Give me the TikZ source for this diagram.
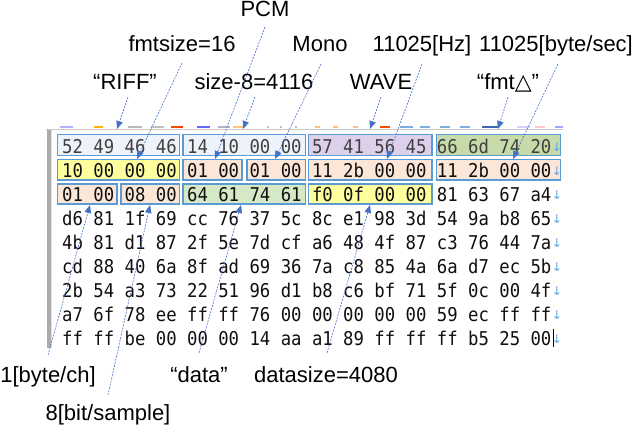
\documentclass[tikz,border=0pt]{standalone}
\usepackage{fontspec}
\setmainfont{Liberation Sans}
\newfontfamily\hexfont[FakeStretch=0.91]{DejaVu Sans Mono}
\newfontfamily\symfont{DejaVu Sans}
\usetikzlibrary{arrows.meta,calc}
\definecolor{boxblue}{HTML}{5B9BD5}
\definecolor{leadblue}{HTML}{4472C4}
\definecolor{eolblue}{HTML}{5AA5E6}
\definecolor{hexcol}{HTML}{101010}
\definecolor{fillgrey}{HTML}{EEF2FA}
\definecolor{filllav}{HTML}{DDD0EA}
\definecolor{fillgreen}{HTML}{C6DBA9}
\definecolor{filllgreen}{HTML}{D6E9C6}
\definecolor{fillyellow}{HTML}{FFFF9E}
\definecolor{fillpeach}{HTML}{FCE6D8}
\begin{document}
\begin{tikzpicture}[x=1pt,y=-1pt,
  hexrow/.style={anchor=base west, inner sep=0pt, font=\hexfont\fontsize{19}{19}\selectfont, text=hexcol},
  lbl/.style={anchor=base, inner sep=0pt, font=\fontsize{22}{22}\selectfont, text=black},
  bytebox/.style={draw=boxblue, line width=1.2pt},
  lead/.style={draw=leadblue, line width=0.6pt, dash pattern=on 2pt off 1.2pt,
     -{Triangle[length=8pt,width=6.5pt,fill=leadblue]}},
  eol/.style={anchor=base, inner sep=0pt, font=\symfont\fontsize{12}{12}\selectfont, text=eolblue}
]
\useasboundingbox (0,0) rectangle (637,427);
\fill[white] (0,0) rectangle (637,427);

% toolbar remnants
\draw[color=black!22, line width=1pt] (46,130) -- (563,130);
\foreach \xa/\xb/\c in {60/73/{blue!30}, 94/103/{orange!60!yellow}, 128/142/{black!28}, 151/164/{black!25},
  171/183/{red!45!orange}, 197/210/{blue!60}, 218/230/{blue!25!black!30}, 233/245/{orange!45},
  315/320/{orange!50}, 333/338/{orange!50}, 353/358/{orange!50}, 380/390/{red!40!orange},
  400/413/{boxblue!80}, 420/430/{boxblue!80}, 440/450/{boxblue!80}, 460/470/{boxblue!80},
  482/498/{leadblue!90!black}, 517/530/{blue!18}, 535/545/{red!22}, 555/563/{blue!35}}
  {\fill[\c] (\xa,126) rectangle (\xb,128.5);}
\foreach \xt in {267,280,295}
  {\fill[black!25] (\xt,126) rectangle (\xt+1.5,128.5);}

% left gutter bar
\fill[black!33] (46.5,130) rectangle (50.5,348);
\fill[black!12] (50.5,130) rectangle (52,348);

% row 1 boxes
\path[bytebox, fill=fillgrey] (57.5,134.5) rectangle (179.5,155.5);
\path[bytebox, fill=fillgrey] (183,134.5) rectangle (305.5,155.5);
\path[bytebox, fill=filllav] (308.5,134.5) rectangle (432,155.5);
\path[bytebox, fill=fillgreen] (436.5,134.5) rectangle (560.5,155.5);
% row 2 boxes
\path[bytebox, fill=fillyellow] (57.5,159.5) rectangle (179.5,180);
\path[bytebox, fill=fillpeach] (183,159.5) rectangle (242,180);
\path[bytebox, fill=fillpeach] (247,159.5) rectangle (305.5,180);
\path[bytebox, fill=fillpeach] (308.5,159.5) rectangle (432,180);
\path[bytebox, fill=fillpeach] (436.5,159.5) rectangle (560.5,180);
% row 3 boxes
\path[bytebox, fill=fillpeach] (57.5,184) rectangle (117,204);
\path[bytebox, fill=fillpeach] (121,184) rectangle (179.5,204);
\path[bytebox, fill=filllgreen] (183,184) rectangle (305.5,204);
\path[bytebox, fill=fillyellow] (308.5,184) rectangle (432,204);

% hex rows
\node[hexrow, text=black!75] (r1) at (62,153.5) {52 49 46 46 14 10 00 00 57 41 56 45 66 6d 74 20};
\node[hexrow] (r2) at (62,177.5) {10 00 00 00 01 00 01 00 11 2b 00 00 11 2b 00 00};
\node[hexrow] (r3) at (62,201.5) {01 00 08 00 64 61 74 61 f0 0f 00 00 81 63 67 a4};
\node[hexrow] (r4) at (62,225.5) {d6 81 1f 69 cc 76 37 5c 8c e1 98 3d 54 9a b8 65};
\node[hexrow] (r5) at (62,249.5) {4b 81 d1 87 2f 5e 7d cf a6 48 4f 87 c3 76 44 7a};
\node[hexrow] (r6) at (62,273.5) {cd 88 40 6a 8f ad 69 36 7a c8 85 4a 6a d7 ec 5b};
\node[hexrow] (r7) at (62,297.5) {2b 54 a3 73 22 51 96 d1 b8 c6 bf 71 5f 0c 00 4f};
\node[hexrow] (r8) at (62,321.5) {a7 6f 78 ee ff ff 76 00 00 00 00 00 59 ec ff ff};
\node[hexrow] (r9) at (62,345.5) {ff ff be 00 00 00 14 aa a1 89 ff ff ff b5 25 00};
\foreach \i in {1,...,9}
  {\node[eol] (e\i) at (557,152+24*\i-24) {↓};}
\draw[black, line width=0.8pt] (553.5,329) -- (553.5,347);

% labels
\node[lbl] (pcm) at (265,17) {PCM};
\node[lbl] (fmtsize) at (182,52) {fmtsize=16};
\node[lbl] (mono) at (320,52) {Mono};
\node[lbl] (hz) at (422,52) {11025[Hz]};
\node[lbl] (bps) at (556,52) {11025[byte/sec]};
\node[lbl] (riff) at (125,90) {“RIFF”};
\node[lbl] (size) at (254,90) {size-8=4116};
\node[lbl] (wave) at (381,90) {WAVE};
\node[lbl] (fmt) at (508,90) {“fmt{\symfont △}”};
\node[lbl] (bytech) at (48,383) {1[byte/ch]};
\node[lbl] (data) at (199,383) {“data”};
\node[lbl] (datasize) at (326,383) {datasize=4080};
\node[lbl] (bitsample) at (108,420) {8[bit/sample]};

% arrow targets
\coordinate (tRiff) at (117,129);
\coordinate (tFmtsize) at (137,159);
\coordinate (tPcm) at (215,159);
\coordinate (tSize) at (243,129);
\coordinate (tMono) at (275,159);
\coordinate (tWave) at (370,129);
\coordinate (tHz) at (387,159);
\coordinate (tFmt) at (498,129);
\coordinate (tBps) at (513,159);
\coordinate (tBytech) at (90,205);
\coordinate (tBitsample) at (150,205);
\coordinate (tData) at (241,205);
\coordinate (tDatasize) at (370,205);

% leaders
\draw[lead] ($(riff.base)+(3,7)$) -- (tRiff);
\draw[lead] ($(fmtsize.base)+(0,11)$) -- (tFmtsize);
\draw[lead] ($(pcm.base)+(0,10)$) -- (tPcm);
\draw[lead] ($(size.base)+(1,7)$) -- (tSize);
\draw[lead] ($(mono.base)+(1,12)$) -- (tMono);
\draw[lead] ($(wave.base)+(0,7)$) -- (tWave);
\draw[lead] ($(hz.base)+(0,12)$) -- (tHz);
\draw[lead] ($(fmt.base)+(0,7)$) -- (tFmt);
\draw[lead] ($(bps.base)+(2,12)$) -- (tBps);
\draw[lead] ($(bytech.base)+(0,-28)$) -- (tBytech);
\draw[lead] ($(bitsample.base)+(0,-25)$) -- (tBitsample);
\draw[lead] ($(data.base)+(0,-30)$) -- (tData);
\draw[lead] ($(datasize.base)+(1,-30)$) -- (tDatasize);
\end{tikzpicture}
\end{document}
